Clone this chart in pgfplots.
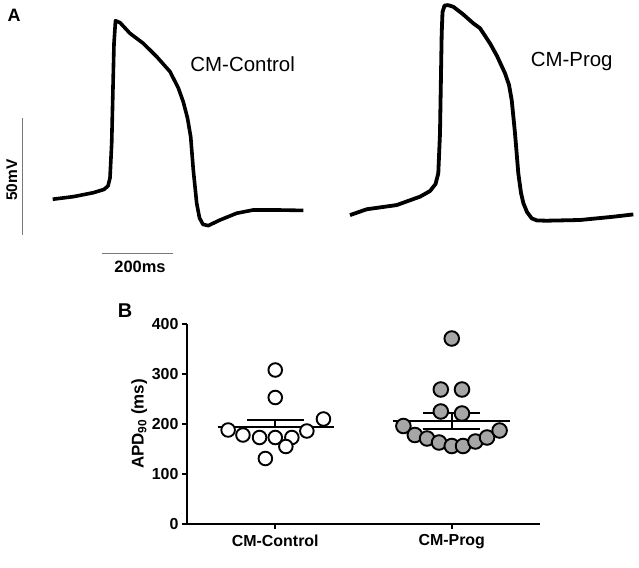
\documentclass[border=0pt]{standalone}
\usepackage{fontspec}
\setmainfont{Liberation Sans}
\usepackage{pgfplots}
\pgfplotsset{compat=1.18}
\definecolor{scalegray}{RGB}{120,120,120}
\definecolor{progfill}{RGB}{166,166,166}

\begin{document}
\begin{tikzpicture}
\path[use as bounding box] (0,0) rectangle (639bp,568bp);

% A: action potential traces (x in ms, y in mV)
\begin{axis}[
  at={(0,568bp)}, anchor=north west,
  scale only axis, width=639bp, height=290bp,
  xmin=-148.45, xmax=1651.6, ymin=-114, ymax=10.3,
  axis lines=none, clip=false
]
  % CM-Control
  \addplot[black, line width=3.6bp, line join=round] coordinates {
    (0,-75.1) (58,-74.0) (114.4,-72.3) (144.5,-70.9) (155.8,-69.4)
    (161.4,-66.0) (166.2,-51.1) (172.7,-8.3) (176.9,1.4) (189.6,0.6)
    (217.7,-4.0) (255.2,-8.3) (293.0,-14.0) (330.4,-20.4) (353.8,-27.4)
    (367.9,-33.4) (379.7,-40.3) (388.7,-48.3) (396.1,-62.6) (405.6,-76.8)
    (413.5,-83.1) (423.4,-85.9) (438.3,-86.4) (471.3,-84.0) (518.3,-81.1)
    (565.1,-79.7) (631.0,-79.7) (705.9,-79.9)
  };
  % CM-Prog
  \addplot[black, line width=3.8bp, line join=round] coordinates {
    (837.5,-81.9) (884.5,-79.4) (969.0,-77.6) (1034.7,-74.0) (1062.8,-71.6)
    (1078.4,-68.6) (1086.2,-64.0) (1091.0,-46.8) (1095.8,-4.0) (1098.1,5.1)
    (1103.7,7.9) (1113.6,8.1) (1128.5,7.4) (1155.8,4.2) (1184.8,0.3)
    (1203.7,-1.8) (1231.9,-8.3) (1251.6,-13.7) (1274.1,-21.1) (1285.4,-26.1)
    (1293.0,-32.6) (1302.3,-46.8) (1311.6,-64.0) (1319.2,-72.4) (1325.7,-76.7)
    (1336.1,-80.6) (1349.4,-83.3) (1364.3,-84.2) (1391.6,-84.3) (1485.4,-84.0)
    (1579.2,-82.6) (1635.6,-81.6)
  };
  % scale bars: 50 mV, 200 ms
  \addplot[scalegray, line width=1.3bp] coordinates {(-84.5,-40.4) (-84.5,-90.4)};
  \addplot[scalegray, line width=1.3bp] coordinates {(138,-98.3) (338,-98.3)};
  \node[font=\bfseries\fontsize{15.5}{17}\selectfont, rotate=90] at (axis cs:-115.5,-66.9) {50mV};
  \node[font=\bfseries\fontsize{16.5}{18}\selectfont] at (axis cs:245.9,-104.0) {200ms};
  \node[font=\fontsize{20.5}{23}\selectfont] at (axis cs:535.2,-17.3) {CM-Control};
  \node[font=\fontsize{20.5}{23}\selectfont] at (axis cs:1462.0,-16.2) {CM-Prog};
\end{axis}
\node[font=\bfseries\fontsize{18}{20}\selectfont] at (14bp,553bp) {A};
\node[font=\bfseries\fontsize{20}{22}\selectfont] at (125bp,257.3bp) {B};

% B: APD90 scatter
\begin{axis}[
  at={(187bp,44bp)}, anchor=south west,
  scale only axis, width=353bp, height=200bp,
  xmin=-0.5, xmax=1.5, ymin=0, ymax=400,
  axis x line=bottom, axis y line=left,
  axis line style={-, line width=2bp},
  xtick={0,1}, xticklabels={CM-Control, CM-Prog},
  ytick={0,100,200,300,400},
  tick align=outside, major tick length=5bp,
  tick style={black, line width=2bp},
  tick label style={font=\bfseries\fontsize{16}{18}\selectfont},
  xticklabel style={yshift=-2bp},
  /pgf/number format/assume math mode=true,
  ylabel={\textbf{APD\textsubscript{90} (ms)}},
  ylabel style={font=\fontsize{17}{19}\selectfont, at={(axis description cs:-0.135,0.5)}, anchor=center},
  clip=false
]
  % CM-Control
  \addplot[only marks, mark=*, mark size=6.8bp,
    mark options={fill=white, draw=black, line width=1.9bp}] table {
    x       y
    0       308
    0       253
    0.273   210
   -0.267   188
   -0.183   178
   -0.089   173
    0.094   173
    0.179   186
    0.060   155
    0       173
   -0.056   131
  };
  \addplot[black, line width=2bp] coordinates {(-0.326,194) (0.333,194)};
  \addplot[black, line width=2bp] coordinates {(0,194) (0,208)};
  \addplot[black, line width=2bp] coordinates {(-0.16,208) (0.164,208)};
  % CM-Prog
  \addplot[only marks, mark=*, mark size=7.3bp,
    mark options={fill=progfill, draw=black, line width=1.9bp}] table {
    x       y
    1       371
    0.938   269
    1.058   269
    0.938   225
    1.058   221
    0.726   196
    0.791   178
    0.860   171
    0.928   163
    1       156
    1.064   156
    1.134   165
    1.200   173
    1.271   187
  };
  \addplot[black, line width=2bp] coordinates {(0.665,207) (1.328,207)};
  \addplot[black, line width=2bp] coordinates {(1,191) (1,223)};
  \addplot[black, line width=2bp] coordinates {(0.835,223) (1.162,223)};
  \addplot[black, line width=2bp] coordinates {(0.835,191) (1.162,191)};
\end{axis}
\end{tikzpicture}
\end{document}
